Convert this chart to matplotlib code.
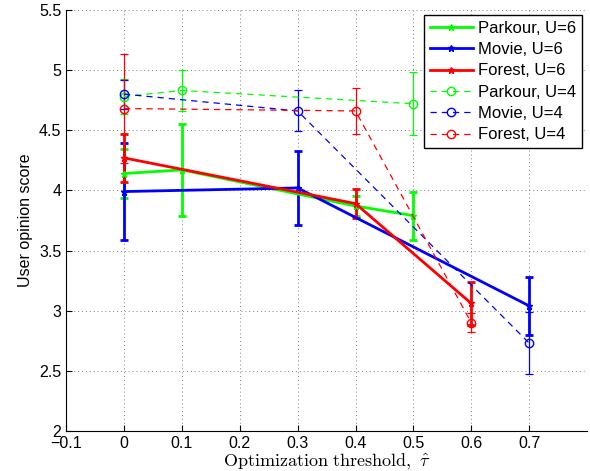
import matplotlib
matplotlib.use("Agg")
import matplotlib.pyplot as plt

plt.rcParams['font.family'] = ['Liberation Sans', 'DejaVu Sans']
plt.rcParams['mathtext.fontset'] = 'cm'

# U=6 series
park6_x = [0, 0.1, 0.4, 0.5]
park6_y = [4.14, 4.17, 3.87, 3.79]
park6_e = [0.20, 0.38, 0.08, 0.20]

movie6_x = [0, 0.3, 0.7]
movie6_y = [3.99, 4.02, 3.04]
movie6_e = [0.40, 0.31, 0.24]

forest6_x = [0, 0.4, 0.6]
forest6_y = [4.27, 3.89, 3.06]
forest6_e = [0.20, 0.12, 0.18]

# U=4 series
park4_x = [0, 0.1, 0.5]
park4_y = [4.78, 4.83, 4.72]
park4_e = [0.145, 0.17, 0.26]

movie4_x = [0, 0.3, 0.7]
movie4_y = [4.80, 4.66, 2.73]
movie4_e = [0.12, 0.17, 0.26]

forest4_x = [0, 0.4, 0.6]
forest4_y = [4.68, 4.66, 2.90]
forest4_e = [0.45, 0.19, 0.08]

labels = ['Parkour, U=6', 'Movie, U=6', 'Forest, U=6',
          'Parkour, U=4', 'Movie, U=4', 'Forest, U=4']
x_ticks = [-0.1, 0, 0.1, 0.2, 0.3, 0.4, 0.5, 0.6, 0.7]
y_ticks = [2, 2.5, 3, 3.5, 4, 4.5, 5, 5.5]

G, B, R = (0, 1, 0), (0, 0, 1), (1, 0, 0)

fig = plt.figure(figsize=(5.9, 4.71), dpi=100)
ax = fig.add_axes([0.112, 0.085, 0.883, 0.894])

solid = [(park6_x, park6_y, park6_e, G), (movie6_x, movie6_y, movie6_e, B),
         (forest6_x, forest6_y, forest6_e, R)]
dashed = [(park4_x, park4_y, park4_e, G), (movie4_x, movie4_y, movie4_e, B),
          (forest4_x, forest4_y, forest4_e, R)]

handles = []
for (x, y, e, c) in solid:
    h = ax.errorbar(x, y, yerr=e, color=c, lw=2, elinewidth=2, capsize=3,
                    capthick=2, marker='*', ms=5, zorder=3)
    handles.append(h.lines[0])
for (x, y, e, c) in dashed:
    h = ax.errorbar(x, y, yerr=e, color=c, lw=0.9, elinewidth=0.9, capsize=3,
                    capthick=0.9, marker='o', ms=6, mfc='none', mec=c,
                    ls=(0, (5, 4)), zorder=3)
    handles.append(h.lines[0])

ax.set_xlim(-0.1, 0.8)
ax.set_ylim(2, 5.5)
ax.set_xticks(x_ticks)
ax.set_xticklabels(['\u22120.1'] + [f'{v:g}' for v in x_ticks[1:]])
ax.set_yticks(y_ticks)
ax.set_yticklabels([f'{v:g}' for v in y_ticks])
ax.tick_params(direction='in', labelsize=11.5, length=4)
ax.grid(True, ls=(0, (1, 3)), color='0.5', lw=0.7)
ax.spines['top'].set_visible(False)
ax.spines['right'].set_visible(False)

ax.set_ylabel('User opinion score', fontsize=11.5)
ax.set_xlabel(r'$\mathrm{Optimization\ threshold,}\ \hat{\tau}$', fontsize=13, labelpad=1)

leg = ax.legend(handles, labels, loc='upper right', fontsize=12,
                fancybox=False, edgecolor='black', framealpha=1,
                borderaxespad=0.3, handlelength=2.6, labelspacing=0.38,
                handletextpad=0.3, borderpad=0.35)
leg.get_frame().set_linewidth(1)

fig.savefig('out.png', dpi=100)
